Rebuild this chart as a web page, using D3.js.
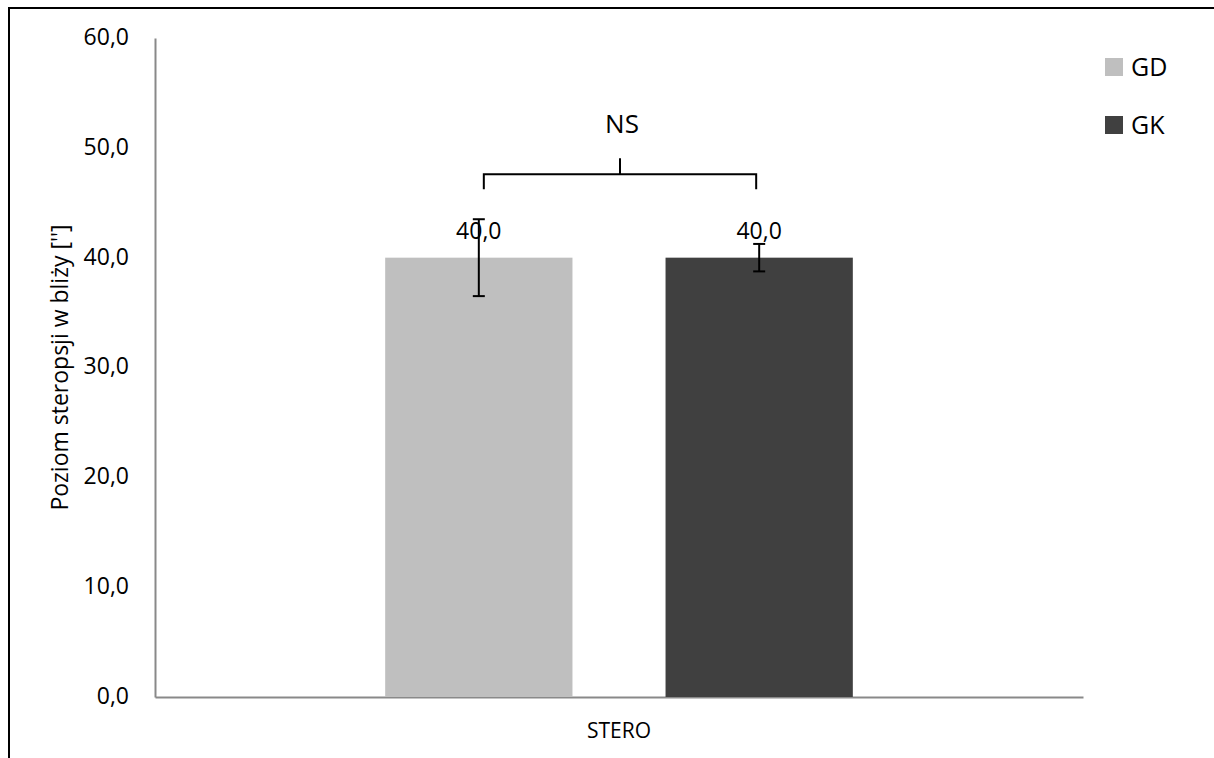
<!DOCTYPE html>
<html>
<head>
<meta charset="utf-8">
<script src="https://cdn.jsdelivr.net/npm/d3@7"></script>
<style>
  body { margin: 0; background: #fff; }
  svg { display: block; font-family: "Open Sans", sans-serif; }
</style>
</head>
<body>
<div id="chart"></div>
<script>
// Datos del gráfico
const categories = ["STERO"];
const seriesNames = ["GD", "GK"];
const seriesColors = ["#bfbfbf", "#404040"];
const seriesValues = [40.0, 40.0];
const seriesErrors = [3.5, 1.25];
const yTicks = [0, 10, 20, 30, 40, 50, 60];
const yTitle = "Poziom steropsji w bliży ['']";
const significance = "NS";

const width = 1214, height = 758;
const margin = { top: 38, right: 131, bottom: 61, left: 155 };
const fmt = v => d3.format(".1f")(v).replace(".", ",");

const svg = d3.select("#chart").append("svg")
    .attr("width", width)
    .attr("height", height);

// Marco exterior
svg.append("rect")
    .attr("x", 9).attr("y", 8)
    .attr("width", width + 20).attr("height", height + 20)
    .attr("fill", "none")
    .attr("stroke", "#000")
    .attr("stroke-width", 2);

const x0 = d3.scaleBand()
    .domain(categories)
    .range([margin.left, width - margin.right]);

const x1 = d3.scaleBand()
    .domain(seriesNames)
    .range([0, x0.bandwidth()])
    .paddingInner(0.332)
    .paddingOuter(0.821);

const y = d3.scaleLinear()
    .domain([0, 60])
    .range([height - margin.bottom, margin.top]);

// Eje Y
const yAxis = svg.append("g")
    .attr("transform", `translate(${margin.left},0)`)
    .call(d3.axisLeft(y).tickValues(yTicks).tickFormat(fmt).tickSize(0).tickPadding(26));
yAxis.select(".domain").attr("stroke", "#898989").attr("stroke-width", 2);
yAxis.selectAll("text")
    .attr("font-size", 23)
    .attr("font-family", "Open Sans")
    .attr("fill", "#000")
    .attr("dy", "0.28em");

// Eje X
const xAxis = svg.append("g")
    .attr("transform", `translate(0,${height - margin.bottom})`)
    .call(d3.axisBottom(x0).tickSize(0).tickPadding(26).tickSizeOuter(0));
xAxis.select(".domain").attr("stroke", "#898989").attr("stroke-width", 2);
xAxis.selectAll("text")
    .attr("font-size", 21)
    .attr("font-family", "Open Sans")
    .attr("fill", "#000");

// Título del eje Y
svg.append("text")
    .attr("transform", `translate(68,${(margin.top + height - margin.bottom) / 2}) rotate(-90)`)
    .attr("text-anchor", "middle")
    .attr("font-size", 23)
    .attr("fill", "#000")
    .text(yTitle);

// Barras
const groups = svg.append("g");
const data = seriesNames.map((name, i) => ({
    name, value: seriesValues[i], err: seriesErrors[i], color: seriesColors[i],
    cat: categories[0]
}));

groups.selectAll("rect")
    .data(data)
    .enter().append("rect")
    .attr("x", d => x0(d.cat) + x1(d.name))
    .attr("y", d => y(d.value))
    .attr("width", x1.bandwidth())
    .attr("height", d => y(0) - y(d.value))
    .attr("fill", d => d.color);

// Etiquetas de valor
groups.selectAll(".val")
    .data(data)
    .enter().append("text")
    .attr("class", "val")
    .attr("x", d => x0(d.cat) + x1(d.name) + x1.bandwidth() / 2)
    .attr("y", d => y(d.value) - 19)
    .attr("text-anchor", "middle")
    .attr("font-size", 23)
    .attr("fill", "#000")
    .text(d => fmt(d.value));

// Barras de error
const cx = d => x0(d.cat) + x1(d.name) + x1.bandwidth() / 2;
const err = groups.selectAll(".err")
    .data(data)
    .enter().append("g")
    .attr("class", "err")
    .attr("stroke", "#000")
    .attr("stroke-width", 2);
err.append("line")
    .attr("x1", cx).attr("x2", cx)
    .attr("y1", d => y(d.value + d.err))
    .attr("y2", d => y(d.value - d.err));
err.append("line")
    .attr("x1", d => cx(d) - 6).attr("x2", d => cx(d) + 6)
    .attr("y1", d => y(d.value + d.err)).attr("y2", d => y(d.value + d.err));
err.append("line")
    .attr("x1", d => cx(d) - 6).attr("x2", d => cx(d) + 6)
    .attr("y1", d => y(d.value - d.err)).attr("y2", d => y(d.value - d.err));

// Corchete de significancia
const bx1 = cx(data[0]) + 5, bx2 = cx(data[1]) - 3;
const by = y(47.6);
const bracket = svg.append("g")
    .attr("stroke", "#000")
    .attr("stroke-width", 2)
    .attr("fill", "none");
bracket.append("path")
    .attr("d", `M${bx1},${by + 15}V${by}H${bx2}V${by + 15}`);
bracket.append("line")
    .attr("x1", (bx1 + bx2) / 2).attr("x2", (bx1 + bx2) / 2)
    .attr("y1", by).attr("y2", by - 16);
svg.append("text")
    .attr("x", (bx1 + bx2) / 2 + 2)
    .attr("y", by - 41)
    .attr("text-anchor", "middle")
    .attr("font-size", 26)
    .attr("fill", "#000")
    .text(significance);

// Leyenda
const legend = svg.selectAll(".legend")
    .data(data)
    .enter().append("g")
    .attr("class", "legend")
    .attr("transform", (d, i) => `translate(1105,${58 + i * 58})`);
legend.append("rect")
    .attr("width", 18).attr("height", 18)
    .attr("fill", d => d.color);
legend.append("text")
    .attr("x", 26).attr("y", 18)
    .attr("font-size", 25)
    .attr("fill", "#000")
    .text(d => d.name);
</script>
</body>
</html>
